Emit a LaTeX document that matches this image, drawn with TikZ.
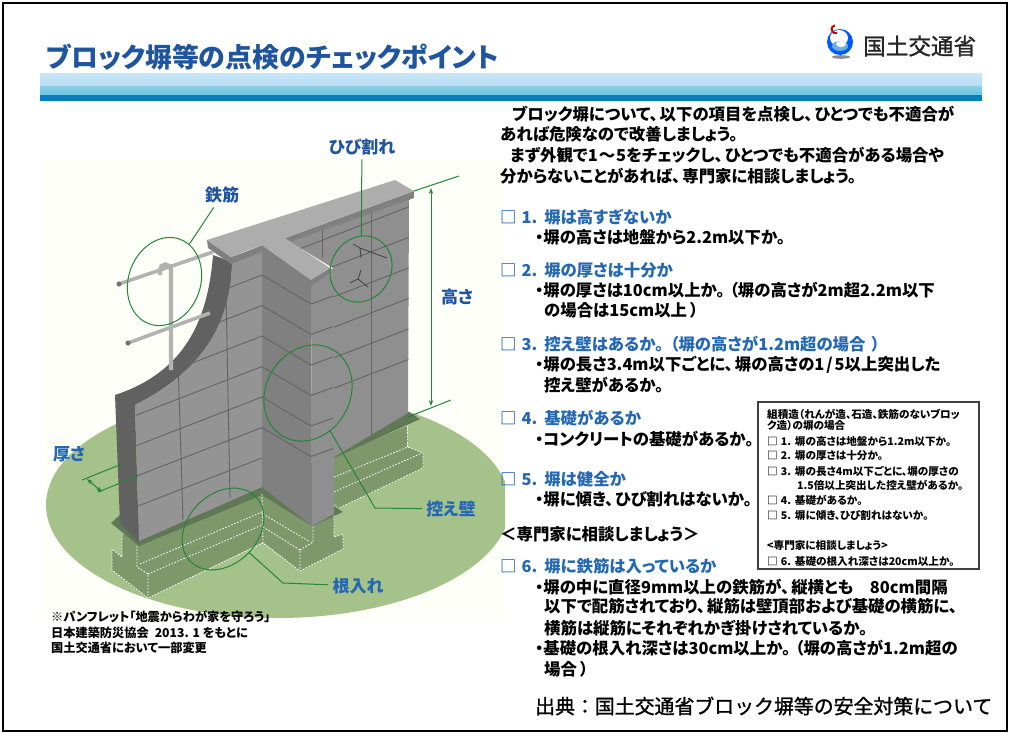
\documentclass[tikz,border=0pt]{standalone}
\usepackage{fontspec}
\setmainfont[RawFeature={+palt}]{Noto Sans CJK JP}
\newfontfamily\plainfont[FakeBold=1.2]{Noto Sans CJK JP}
\usepackage{xcolor}
\usepackage{tikz}
\usetikzlibrary{positioning,arrows.meta,shapes.geometric}
\definecolor{TitleBlue}{RGB}{30,84,160}
\definecolor{HeadBlue}{RGB}{36,104,180}
\definecolor{RingGreen}{RGB}{35,135,55}
\definecolor{LawnGreen}{RGB}{165,194,138}
\definecolor{FootGreen}{RGB}{126,152,108}
\definecolor{BandGreen}{RGB}{95,120,85}
\definecolor{Mortar}{RGB}{100,100,100}
\definecolor{BandA}{RGB}{200,230,248}
\definecolor{BandB}{RGB}{185,222,243}
\definecolor{BandC}{RGB}{135,208,232}
\definecolor{BandD}{RGB}{110,195,225}
\definecolor{BandE}{RGB}{8,125,190}
\newcommand{\ckmark}[1]{□\hspace{5pt}#1.\hspace{7pt}}
\newcommand{\ckmini}[1]{□\hspace{3pt}#1.\hspace{4pt}}
\tikzset{
  txt/.style={anchor=west, inner sep=0pt, font=\bfseries\fontsize{16.4}{18}\selectfont},
  head/.style={txt, text=HeadBlue},
  mini/.style={anchor=west, inner sep=0pt, font=\bfseries\fontsize{10.6}{11}\selectfont},
  note/.style={anchor=west, inner sep=0pt, font=\bfseries\fontsize{12.2}{13}\selectfont},
  lbl/.style={inner sep=4pt, text=TitleBlue, font=\bfseries\fontsize{17}{18}\selectfont},
  ring/.style={ellipse, draw=RingGreen, line width=1pt, inner sep=0pt, outer sep=0pt},
  leader/.style={draw=RingGreen, line width=1pt},
  dimline/.style={draw=RingGreen, line width=1pt, {Stealth[length=6pt]}-{Stealth[length=6pt]}},
  bar/.style={draw=black!30, line width=3.6pt},
  joint/.style={draw=Mortar, line width=0.9pt},
  dots/.style={draw=white, line width=0.8pt, dash pattern=on 1.6pt off 1.6pt}
}
\begin{document}
\begin{tikzpicture}[x=1pt,y=-1pt]
  \useasboundingbox (0,0) rectangle (1010,734);
  \fill[white] (0,0) rectangle (1010,734);
  \draw[black, line width=2pt] (3,3) rectangle (1007,731);

  % heading
  \node[anchor=west, inner sep=0pt, text=TitleBlue, font=\bfseries\fontsize{26.9}{29}\selectfont] (title) at (46,57) {ブロック塀等の点検のチェックポイント};
  \shade[top color=BandA, bottom color=BandB] (40,73) rectangle (982,86);
  \shade[top color=BandC, bottom color=BandD] (40,86) rectangle (982,95);
  \fill[BandE] (40,95) rectangle (982,101);

  % logo
  \fill[black!45] (841,57) ellipse (9 and 1.8);
  \fill[blue!65!cyan] (840,42) circle (13);
  \fill[white] (839,38) ellipse (9 and 8);
  \fill[cyan!70!blue!60] (840,46) ellipse (8 and 5);
  \fill[white] (841,44) ellipse (5 and 3);
  \draw[red!80!black, line width=2pt] (837,33) arc (-110:80:-4);
  \node[anchor=west, inner sep=0pt, text=black!85, font=\plainfont\fontsize{22.6}{24}\selectfont] (mlit) at (863,46) {国土交通省};

  % ground
  \fill[black!1!yellow!2] (46,160) rectangle (505,618);
  \begin{scope}
    \clip (46,160) rectangle (505,618);
    \fill[LawnGreen] (278,505) ellipse (232 and 113);
  \end{scope}

  % footing
  \fill[FootGreen] (334,457) -- (407,426) -- (407,447) -- (423,453) -- (423,468) -- (339,508) -- (334,503) -- cycle;
  \fill[FootGreen] (122,535) -- (122,557) -- (112,549) -- (112,570) -- (148,598) -- (263,542) -- (300,571) -- (343,549) -- (343,534) -- (334,537) -- (334,515) -- (262,485) -- cycle;
  \fill[BandGreen] (111,523) -- (139,546) -- (262,495) -- (312,526) -- (343,512) -- (334,506) -- (262,480) -- (120,515) -- cycle;
  \fill[BandGreen] (334,450) -- (407,411) -- (420,419) -- (334,458) -- cycle;
  \draw[dots] (122,535) -- (122,557) -- (112,549) -- (112,570) -- (148,598) -- (263,543) -- (300,571) -- (343,549) -- (343,534) -- (334,537) -- (334,515);
  \draw[dots] (137,546) -- (137,567) -- (148,574) -- (148,597);
  \draw[dots] (140,564) -- (262,512);
  \draw[dots] (148,574) -- (262,525);
  \draw[dots] (262,494) -- (263,543);
  \draw[dots] (263,514) -- (310,542);
  \draw[dots] (263,527) -- (300,550) -- (300,571);
  \draw[dots] (300,550) -- (313,542) -- (313,525);
  \draw[dots] (334,477) -- (408,447) -- (423,453) -- (423,468) -- (339,508);
  \draw[dots] (334,492) -- (422,453);
  \draw[dots] (407,426) -- (407,447);

  % back wall
  \fill[black!44] (287,240) -- (409,198) -- (408,413) -- (334,457) -- (333,268) -- cycle;
  \begin{scope}
    \clip (287,240) -- (409,198) -- (408,413) -- (334,457) -- (333,268) -- cycle;
    \foreach \k in {0,...,6}
      \draw[joint] (280,{226+30.5*\k}) -- (420,{172+30.5*\k});
    \draw[joint] (322,225) -- (322,258);
    \draw[joint] (371,205) -- (371,436);
  \end{scope}

  % cut end
  \fill[black!62] (213,255) .. controls (208,320) and (185,372) .. (115,395) -- (120,523) -- (139,543) -- (135,405) .. controls (205,370) and (232,320) .. (232,262) -- cycle;

  % long face
  \fill[black!42] (232,258) .. controls (232,320) and (205,370) .. (135,405) -- (139,541) -- (262,487) -- (262,245) -- cycle;
  \begin{scope}
    \clip (232,258) .. controls (232,320) and (205,370) .. (135,405) -- (139,541) -- (262,487) -- (262,245) -- cycle;
    \foreach \k in {0,...,6}
      \draw[joint] (100,{337.7+30.5*\k}) -- (262,{275+30.5*\k});
    \draw[joint] (226,290) -- (230,498);
    \draw[joint] (178,360) -- (183,520);
  \end{scope}

  % buttress
  \fill[black!50] (262,245) -- (311,280) -- (312,526) -- (262,487) -- cycle;
  \fill[black!44] (311,278) -- (334,268) -- (334,514) -- (312,526) -- cycle;
  \foreach \k in {0,...,5}{
    \draw[joint] (262,{275+30.5*\k}) -- (311,{304+30.5*\k});
    \draw[joint] (311,{304+30.5*\k}) -- (333,{296+30.5*\k});
  }

  % cap
  \fill[black!50] (207,240) -- (231,257) -- (262,246) -- (311,280) -- (330,268) -- (330,273) -- (311,286) -- (262,252) -- (231,264) -- (208,248) -- cycle;
  \fill[black!50] (285,238) -- (414,191) -- (414,198) -- (287,243) -- cycle;
  \fill[black!32] (207,240) -- (395,180) -- (414,191) -- (285,238) -- (330,268) -- (311,280) -- (262,245) -- (231,257) -- cycle;

  % cracks
  \draw[black!75, line width=0.8pt] (353,244) -- (360,248) -- (387,258) (360,248) -- (361,258);
  \draw[black!75, line width=0.8pt] (350,283) -- (358,279) -- (368,287) (358,279) -- (361,270);

  % rebars
  \draw[bar] (119,284) -- (213,252);
  \draw[bar] (128,343) -- (210,313);
  \draw[bar, line width=4.4pt] (171,370) -- (171,270) arc (0:-180:5.5) -- ++(0,5);
  \fill[black!55] (119,284) circle (2.6);
  \fill[black!55] (128,343) circle (2.6);

  % labels with rings
  \node[lbl] (lblbar) at (222,195) {鉄筋};
  \node[lbl] (lblcrack) at (362,147) {ひび割れ};
  \node[lbl] (lblhigh) at (457,297) {高さ};
  \node[lbl, text=HeadBlue] (lblthick) at (69,454) {厚さ};
  \node[lbl, text=HeadBlue] (lblbutt) at (451,509) {控え壁};
  \node[lbl, text=HeadBlue] (lbldepth) at (358,586) {根入れ};
  \node[ring, minimum width=72pt, minimum height=90pt, rotate=-20] (ringbar) at (164.5,281.5) {};
  \node[ring, minimum width=60pt, minimum height=68pt, rotate=-30] (ringcrack) at (361,269) {};
  \node[ring, minimum width=84pt, minimum height=100pt, rotate=-30] (ringbutt) at (308,393) {};
  \node[ring, minimum width=70pt, minimum height=92pt, rotate=-45] (ringdepth) at (223,529) {};
  \coordinate (kneebutt) at (375,508);
  \coordinate (kneedepth) at (283,583);
  \draw[leader] (ringbar) -- (lblbar);
  \draw[leader] (ringcrack) -- (lblcrack);
  \draw[leader] (ringbutt) -- (kneebutt) -- (lblbutt);
  \draw[leader] (ringdepth) -- (kneedepth) -- (lbldepth);

  % dimensions
  \coordinate (hightopa) at (414,191);
  \coordinate (hightopb) at (459,176);
  \coordinate (highbota) at (408,417);
  \coordinate (highbotb) at (451,400);
  \coordinate (higha) at (431,188);
  \coordinate (highb) at (431,406);
  \draw[leader] (hightopa) -- (hightopb);
  \draw[leader] (highbota) -- (highbotb);
  \draw[dimline] (higha) -- (highb);
  \coordinate (thicka) at (82,480);
  \coordinate (thickb) at (122,464);
  \coordinate (thickc) at (98,492);
  \coordinate (thickd) at (138,476);
  \coordinate (thicke) at (87,479);
  \coordinate (thickf) at (102,492);
  \draw[leader] (thicka) -- (thickb);
  \draw[leader] (thickc) -- (thickd);
  \draw[dimline] (thicke) -- (thickf);

  % footnote
  \node[note] (fn1) at (51,617) {※パンフレット「地震からわが家を守ろう」};
  \node[note] (fn2) at (51,633) {日本建築防災協会\hspace{6pt}2013. 1 をもとに};
  \node[note] (fn3) at (51,648) {国土交通省において一部変更};

  % intro
  \node[txt] (in1) at (512,114) {ブロック塀について、\hspace{2pt}以下の項目を点検し、\hspace{2pt}ひとつでも不適合が};
  \node[txt] (in2) at (500,134) {あれば危険なので改善しましょう。};
  \node[txt] (in3) at (510,155) {まず外観で1\hspace{1pt}～\hspace{1pt}5をチェックし、\hspace{2pt}ひとつでも不適合がある場合や};
  \node[txt] (in4) at (500,176) {分からないことがあれば、\hspace{2pt}専門家に相談しましょう。};

  % checklist
  \node[head] (h1) at (500,217) {\ckmark{1}塀は高すぎないか};
  \node[txt] (t1a) at (535,237) {・塀の高さは地盤から2.2m以下か。};
  \node[head] (h2) at (500,270) {\ckmark{2}塀の厚さは十分か};
  \node[txt] (t2a) at (535,290) {・塀の厚さは10cm以上か。\hspace{5pt}（塀の高さが2m超2.2m以下};
  \node[txt] (t2b) at (544,310) {の場合は15cm以上\hspace{3pt}）};
  \node[head] (h3) at (500,344) {\ckmark{3}控え壁はあるか。\hspace{7pt}（塀の高さが1.2m超の場合\hspace{6pt}）};
  \node[txt] (t3a) at (535,365) {・塀の長さ3.4m以下ごとに、\hspace{2pt}塀の高さの1\hspace{2pt}/\hspace{2pt}5以上突出した};
  \node[txt] (t3b) at (544,385) {控え壁があるか。};
  \node[head] (h4) at (500,418) {\ckmark{4}基礎があるか};
  \node[txt] (t4a) at (535,439) {・コンクリートの基礎があるか。};
  \node[head] (h5) at (500,479) {\ckmark{5}塀は健全か};
  \node[txt] (t5a) at (535,499) {・塀に傾き、\hspace{2pt}ひび割れはないか。};
  \node[txt] (ask) at (500,534) {＜専門家に相談しましょう＞};
  \node[head] (h6) at (500,566) {\ckmark{6}塀に鉄筋は入っているか};
  \node[txt] (t6a) at (535,587) {・塀の中に直径9mm以上の鉄筋が、\hspace{2pt}縦横とも　80cm間隔};
  \node[txt] (t6b) at (544,606) {以下で配筋されており、\hspace{2pt}縦筋は壁頂部および基礎の横筋に、};
  \node[txt] (t6c) at (544,628) {横筋は縦筋にそれぞれかぎ掛けされているか。};
  \node[txt] (t6d) at (535,648) {・基礎の根入れ深さは30cm以上か。\hspace{5pt}（塀の高さが1.2m超の};
  \node[txt] (t6e) at (544,669) {場合\hspace{3pt}）};

  % masonry box
  \draw[black!75, line width=1.2pt] (758,402) rectangle (979,569);
  \node[mini] (m0a) at (767,414) {組積造（れんが造、石造、鉄筋のないブロッ};
  \node[mini] (m0b) at (767,425) {ク造）の塀の場合};
  \node[mini] (m1) at (767,442) {\ckmini{1}塀の高さは地盤から1.2m以下か。};
  \node[mini] (m2) at (767,456) {\ckmini{2}塀の厚さは十分か。};
  \node[mini] (m3a) at (767,471) {\ckmini{3}塀の長さ4m以下ごとに、塀の厚さの};
  \node[mini] (m3b) at (797,485) {1.5倍以上突出した控え壁があるか。};
  \node[mini] (m4) at (767,500) {\ckmini{4}基礎があるか。};
  \node[mini] (m5) at (767,516) {\ckmini{5}塀に傾き、ひび割れはないか。};
  \node[mini] (mask) at (767,545) {<専門家に相談しましょう>};
  \node[mini] (m6) at (767,561) {\ckmini{6}基礎の根入れ深さは20cm以上か。};

  \node[anchor=west, inner sep=0pt, font=\plainfont\fontsize{19.9}{21}\selectfont] (src) at (535,706) {出典：国土交通省ブロック塀等の安全対策について};
\end{tikzpicture}
\end{document}
